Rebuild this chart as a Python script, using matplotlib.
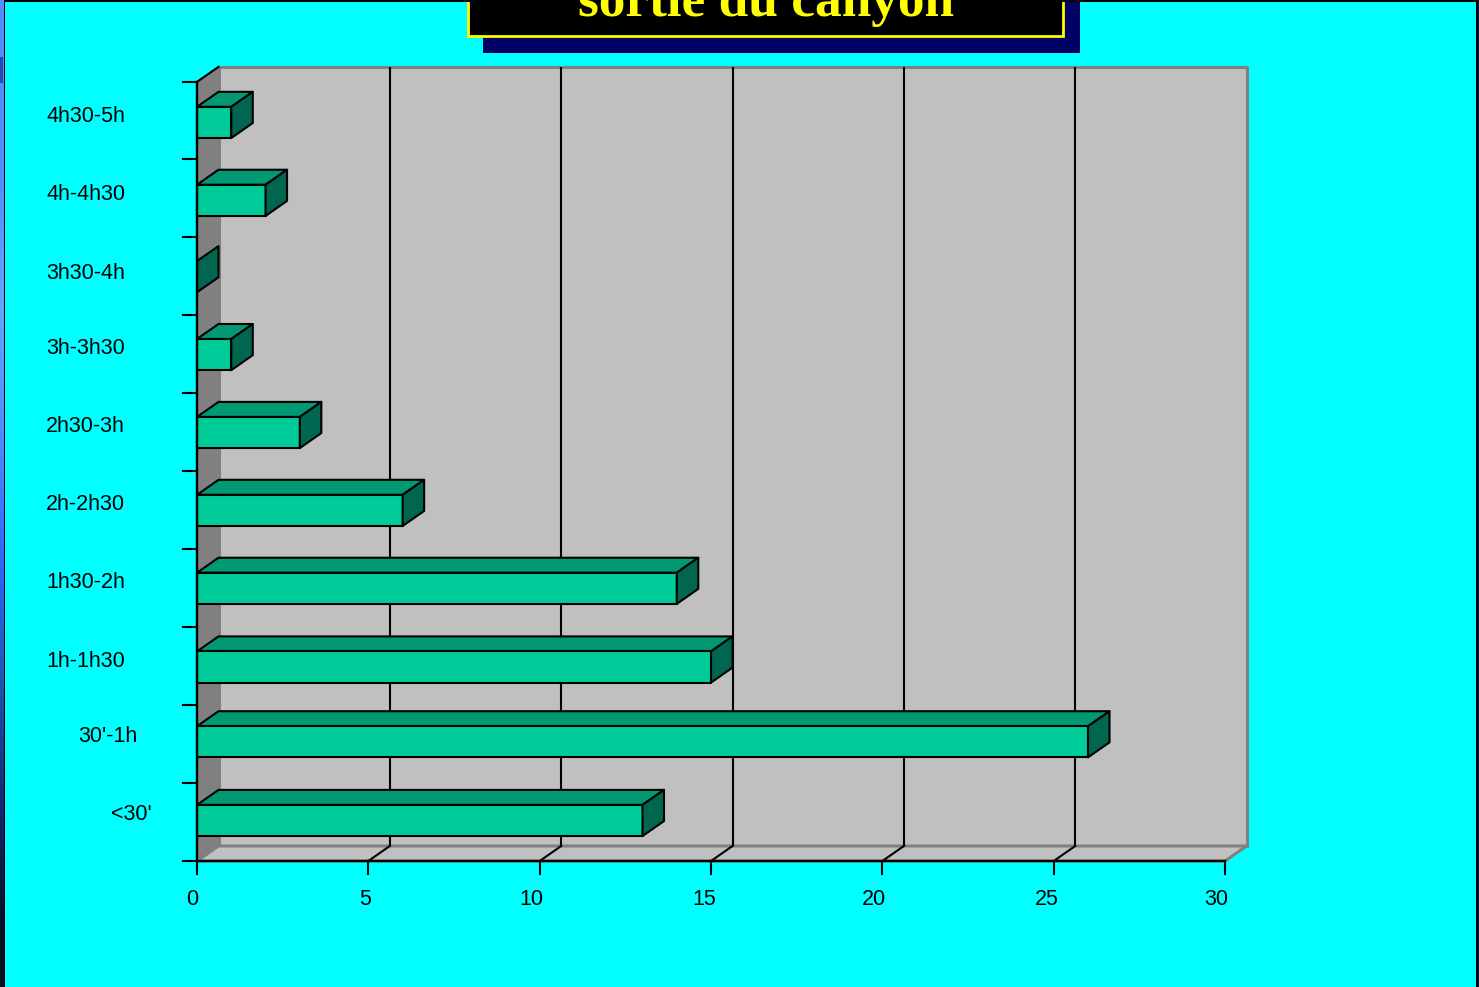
import numpy as np
import matplotlib
matplotlib.use("Agg")
import matplotlib.pyplot as plt
from matplotlib.patches import Polygon, Rectangle

W, H = 1479, 987

categories = ["<30'", "30'-1h", "1h-1h30", "1h30-2h", "2h-2h30",
              "2h30-3h", "3h-3h30", "3h30-4h", "4h-4h30", "4h30-5h"]
values = [13, 26, 15, 14, 6, 3, 1, 0, 2, 1]
xticks = [0, 5, 10, 15, 20, 25, 30]

plt.rcParams['font.family'] = ['Liberation Sans', 'DejaVu Sans']

# -- colours
BG = '#00ffff'
WALL = '#c0c0c0'
WALL_EDGE = '#808080'
FRONT = '#00cc99'
TOP = '#009973'
SIDE = '#006650'

# -- layout (pixels)
X0, X1 = 197, 1225
Y_BOT, Y_TOP = 861, 82
DX_PX, DY_PX = 21.5, 15
BAR_H = 0.40
bar_mid = [0.52, 1.53, 2.49, 3.50, 4.50, 5.50, 6.50, 7.50, 8.48, 9.48]
tick_y = [0, 1, 2, 3, 4, 5.01, 6.01, 7.01, 8.01, 9.01, 10]
label_px = [(131, 814), (108, 736), (86, 661), (86, 582), (85.5, 504),
            (85.5, 426), (85.5, 348), (85.5, 273), (85.5, 194), (85.5, 116)]
xlabel_px = [192.5, 365.5, 531.5, 704.5, 873.5, 1046.5, 1216.5]


def px(x, y):
    return x / W, 1 - y / H


fig = plt.figure(figsize=((W + 0.1) / 100, (H + 0.1) / 100), dpi=100, facecolor=BG)
ax = fig.add_axes([X0 / W, 1 - Y_BOT / H, (X1 - X0) / W, (Y_BOT - Y_TOP) / H])
ax.set_xlim(0, 30)
ax.set_ylim(0, 10)
ax.axis('off')

dx = DX_PX * 30 / (X1 - X0)
dy = DY_PX * 10 / (Y_BOT - Y_TOP)


def poly(a, pts, fc, ec='black', lw=1.5, z=2):
    a.add_patch(Polygon(pts, closed=True, fc=fc, ec=ec, lw=lw, zorder=z,
                        clip_on=False, joinstyle='round'))


# -- walls
poly(ax, [(dx, dy), (30 + dx, dy), (30 + dx, 10 + dy), (dx, 10 + dy)], WALL, WALL_EDGE, 2.2, 1)
poly(ax, [(0, 0), (dx, dy), (dx, 10 + dy), (0, 10)], WALL_EDGE, WALL_EDGE, 1.5, 1)
poly(ax, [(0, 0), (30, 0), (30 + dx, dy), (dx, dy)], WALL, WALL_EDGE, 2.2, 1)
for t in xticks[1:-1]:
    ax.plot([t + dx, t + dx], [dy, 10 + dy], color='black', lw=1.5, zorder=1.5,
            clip_on=False, solid_capstyle='butt')
    ax.plot([t, t + dx], [0, dy], color='black', lw=1.5, zorder=1.5, clip_on=False)

# -- axis lines and ticks
ax.plot([0, 0], [0, 10], color='black', lw=1.7, zorder=4, clip_on=False)
ax.plot([0, 30], [0, 0], color='black', lw=1.7, zorder=4, clip_on=False)
ax.plot([0, dx], [10, 10 + dy], color='black', lw=1.5, zorder=1.5, clip_on=False)
ylen = 14 * 30 / (X1 - X0)
xlen = 13 * 10 / (Y_BOT - Y_TOP)
for t in tick_y:
    ax.plot([-ylen, 0], [t, t], color='black', lw=1.5, zorder=4, clip_on=False)
for t in xticks:
    ax.plot([t, t], [-xlen, 0], color='black', lw=1.5, zorder=4, clip_on=False)

# -- bars, back rows first
for v, m in reversed(list(zip(values, bar_mid))):
    y0, y1 = m - BAR_H / 2, m + BAR_H / 2
    if v > 0:
        poly(ax, [(0, y1), (v, y1), (v + dx, y1 + dy), (dx, y1 + dy)], TOP, z=3)
        poly(ax, [(0, y0), (v, y0), (v, y1), (0, y1)], FRONT, z=3)
    poly(ax, [(v, y0), (v + dx, y0 + dy), (v + dx, y1 + dy), (v, y1)], SIDE, z=3)

# -- tick labels
for name, (lx, ly) in zip(categories, label_px):
    fig.text(*px(lx, ly), name, ha='center', va='center', fontsize=15.5, color='black')
for t, lx in zip(xticks, xlabel_px):
    fig.text(*px(lx, 899), str(t), ha='center', va='center', fontsize=15.5, color='black')

# -- overlay in pixel coordinates: page frame and title box
ov = fig.add_axes([0, 0, 1, 1], facecolor='none')
ov.add_patch(Rectangle((483, 0), 597, 53.5, fc='#000066', ec='none'))
ov.add_patch(Rectangle((468, -5), 595, 41.5, fc='black', ec='#ffff00', lw=2))
ov.text(765.5, 16, 'sortie du canyon', ha='center', va='baseline', color='#ffff00',
        fontsize=38.4, fontweight='bold', family='Liberation Serif')
ov.add_patch(Rectangle((3, 0), W, 2, fc='black', ec='none'))
ov.add_patch(Rectangle((3, 0), 2, H, fc='black', ec='none'))
ov.add_patch(Rectangle((W - 3, 0), 1.5, H, fc='black', ec='none'))
ov.add_patch(Rectangle((W - 1.5, 0), 1.5, H, fc='#001848', ec='none'))

# window behind the page, a blue gradient showing on the left edge
strip = np.array([[0.33, 0.55, 1.0], [0.33, 0.55, 1.0], [0.38, 0.65, 1.0],
                  [0.30, 0.55, 1.0], [0.20, 0.40, 1.0], [0.13, 0.33, 0.70],
                  [0.10, 0.15, 0.45], [0.03, 0.05, 0.15]])[:, None, :]
ov.imshow(strip, extent=(0, 3, H, 0), aspect='auto', interpolation='bilinear', zorder=1)
ov.add_patch(Rectangle((0, 57), 3, 26, fc='#2a4ab0', ec='none', zorder=1.5))
ov.set_xlim(0, W)
ov.set_ylim(H, 0)
ov.axis('off')

fig.savefig('out.png', dpi=100, facecolor=BG)
